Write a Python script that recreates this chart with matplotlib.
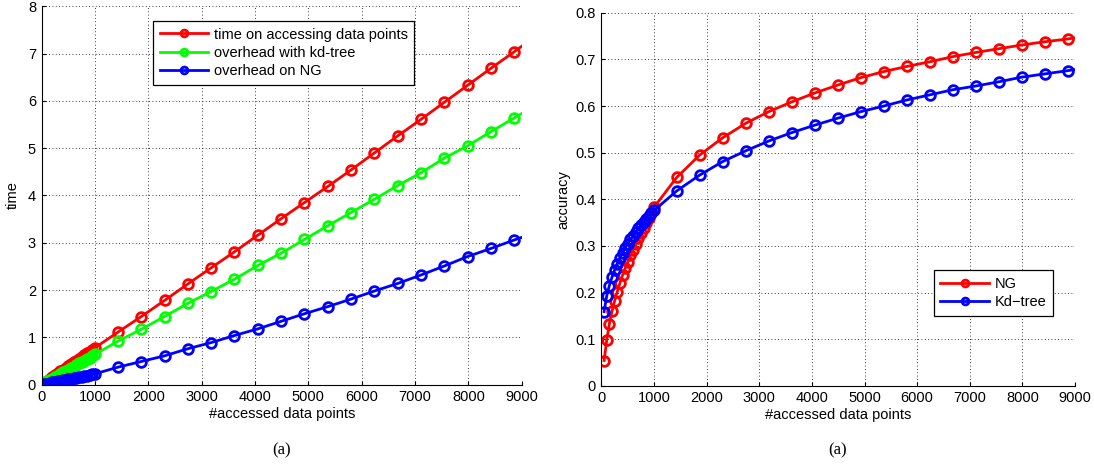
import numpy as np
import matplotlib
matplotlib.use('Agg')
import matplotlib.pyplot as plt

plt.rcParams['font.family'] = ['Liberation Sans', 'DejaVu Sans']

# x positions: dense part (50..1000) then sparse part
x_dense = [50, 100, 150, 200, 250, 300, 350, 400, 450, 500,
           550, 600, 650, 700, 750, 800, 850, 900, 950, 1000]
x_sparse = [1430, 1867, 2304, 2741, 3178, 3615, 4052, 4489, 4926, 5363,
            5800, 6237, 6674, 7111, 7548, 7985, 8422, 8859, 9296]

# left panel: time
time_dense = [0.04, 0.08, 0.12, 0.16, 0.20, 0.24, 0.28, 0.31, 0.35, 0.39,
              0.43, 0.47, 0.51, 0.55, 0.59, 0.63, 0.66, 0.70, 0.74, 0.78]
time_sparse = [1.11, 1.44, 1.78, 2.13, 2.47, 2.81, 3.16, 3.51, 3.85, 4.19,
               4.54, 4.90, 5.26, 5.61, 5.97, 6.33, 6.69, 7.04, 7.40]
kd_dense = [0.03, 0.07, 0.10, 0.13, 0.16, 0.19, 0.22, 0.26, 0.29, 0.32,
            0.35, 0.38, 0.41, 0.45, 0.48, 0.51, 0.54, 0.57, 0.61, 0.64]
kd_sparse = [0.92, 1.17, 1.44, 1.72, 1.97, 2.23, 2.52, 2.78, 3.07, 3.36,
             3.64, 3.92, 4.21, 4.48, 4.79, 5.05, 5.35, 5.64, 5.93]
ng_dense = [0.01, 0.02, 0.04, 0.05, 0.06, 0.07, 0.08, 0.09, 0.10, 0.12,
            0.13, 0.14, 0.15, 0.16, 0.17, 0.18, 0.19, 0.21, 0.22, 0.23]
ng_sparse = [0.37, 0.49, 0.61, 0.76, 0.89, 1.04, 1.18, 1.34, 1.50, 1.65,
             1.81, 1.98, 2.14, 2.32, 2.51, 2.71, 2.88, 3.06, 3.23]

# right panel: accuracy
acc_ng_dense = [0.054, 0.098, 0.133, 0.160, 0.182, 0.202, 0.220, 0.237, 0.252, 0.266,
                0.280, 0.292, 0.304, 0.316, 0.327, 0.338, 0.349, 0.359, 0.370, 0.383]
acc_ng_sparse = [0.447, 0.495, 0.532, 0.563, 0.588, 0.609, 0.628, 0.645, 0.661, 0.674,
                 0.685, 0.695, 0.706, 0.715, 0.723, 0.731, 0.738, 0.744, 0.751]
acc_kd_dense = [0.159, 0.193, 0.215, 0.233, 0.248, 0.262, 0.274, 0.285, 0.295, 0.305,
                0.314, 0.322, 0.330, 0.338, 0.345, 0.352, 0.358, 0.364, 0.370, 0.376]
acc_kd_sparse = [0.418, 0.452, 0.481, 0.504, 0.525, 0.543, 0.559, 0.574, 0.588, 0.600,
                 0.613, 0.624, 0.635, 0.643, 0.652, 0.662, 0.669, 0.676, 0.683]

x_all = x_dense + x_sparse
FS = 10.5


def style_axes(ax):
    ax.spines['top'].set_visible(False)
    ax.spines['right'].set_visible(False)
    ax.tick_params(direction='in', length=3, labelsize=FS, pad=4)
    ax.grid(True, linestyle=(0, (1, 3)), color='k', linewidth=0.6)
    ax.set_axisbelow(True)


def draw(ax, y, color, label):
    ax.plot(x_all, y, '-o', color=color, lw=2.0, ms=7, mfc='none',
            mew=2.0, label=label)


def add_legend(ax, loc, anchor):
    leg = ax.legend(loc=loc, bbox_to_anchor=anchor, borderaxespad=0, fontsize=FS,
                    fancybox=False, framealpha=1, edgecolor='k', handlelength=3.3,
                    borderpad=0.45, labelspacing=0.3, handletextpad=0.4,
                    markerscale=0.7)
    leg.get_frame().set_linewidth(0.9)


fig = plt.figure(figsize=(10.94, 4.65), dpi=100)

ax1 = fig.add_axes([0.038, 0.1727, 0.439, 0.8138])
draw(ax1, time_dense + time_sparse, '#ff0000', 'time on accessing data points')
draw(ax1, kd_dense + kd_sparse, '#00ff00', 'overhead with kd-tree')
draw(ax1, ng_dense + ng_sparse, '#0000ff', 'overhead on NG')
ax1.set_xlim(0, 9000)
ax1.set_ylim(0, 8)
ax1.set_xticks(range(0, 9001, 1000))
style_axes(ax1)
ax1.set_xlabel('#accessed data points', fontsize=FS, labelpad=2)
ax1.set_ylabel('time', fontsize=FS, labelpad=6)
add_legend(ax1, 'upper left', (0.232, 0.961))

ax2 = fig.add_axes([0.5498, 0.1705, 0.4328, 0.8018])
draw(ax2, acc_ng_dense + acc_ng_sparse, '#ff0000', 'NG')
draw(ax2, acc_kd_dense + acc_kd_sparse, '#0000ff', 'Kd\u2212tree')
ax2.set_xlim(0, 9000)
ax2.set_ylim(0, 0.8)
ax2.set_xticks(range(0, 9001, 1000))
ax2.set_yticks(np.arange(0, 0.81, 0.1))
ax2.set_yticklabels(['0', '0.1', '0.2', '0.3', '0.4', '0.5', '0.6', '0.7', '0.8'])
style_axes(ax2)
ax2.set_xlabel('#accessed data points', fontsize=FS, labelpad=2)
ax2.set_ylabel('accuracy', fontsize=FS, labelpad=4)
add_legend(ax2, 'lower right', (0.953, 0.188))

fig.text(0.2575, 0.032, '(a)', ha='center', va='center', fontsize=12,
         family='Liberation Serif')
fig.text(0.766, 0.032, '(a)', ha='center', va='center', fontsize=12,
         family='Liberation Serif')

fig.savefig('out.png', dpi=100)
